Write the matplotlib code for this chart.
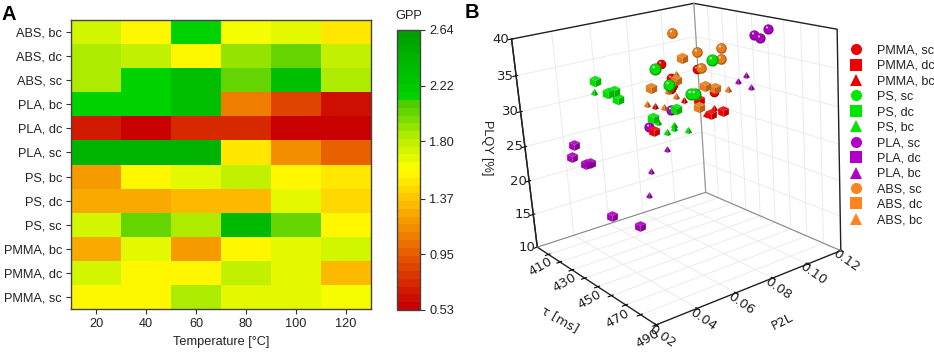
"""
Two panel figure: GPP heatmap (A) and 3D scatter of t, P2L and PLQY (B).
"""

import numpy as np
import matplotlib
matplotlib.use("Agg")
import matplotlib.pyplot as plt
from matplotlib.colors import LinearSegmentedColormap
from matplotlib.lines import Line2D
from matplotlib.path import Path

plt.rcParams["font.family"] = ["Liberation Sans", "DejaVu Sans"]
plt.rcParams["grid.color"] = "#ebebeb"
plt.rcParams["grid.linewidth"] = 0.7

# --- Panel A data ---
temperatures = [20, 40, 60, 80, 100, 120]
samples = ["ABS, bc", "ABS, dc", "ABS, sc", "PLA, bc", "PLA, dc", "PLA, sc",
           "PS, bc", "PS, dc", "PS, sc", "PMMA, bc", "PMMA, dc", "PMMA, sc"]
gpp_abs_bc = [1.71, 1.58, 2.12, 1.60, 1.68, 1.50]
gpp_abs_dc = [1.84, 1.78, 1.57, 1.92, 2.02, 1.77]
gpp_abs_sc = [1.84, 2.12, 2.30, 2.05, 2.34, 1.86]
gpp_pla_bc = [2.12, 2.12, 2.30, 1.10, 0.85, 0.62]
gpp_pla_dc = [0.67, 0.57, 0.75, 0.74, 0.53, 0.53]
gpp_pla_sc = [2.42, 2.46, 2.42, 1.47, 1.15, 0.95]
gpp_ps_bc = [1.18, 1.58, 1.66, 1.77, 1.58, 1.48]
gpp_ps_dc = [1.25, 1.25, 1.33, 1.33, 1.70, 1.42]
gpp_ps_sc = [1.76, 2.02, 1.84, 2.36, 2.05, 1.58]
gpp_pmma_bc = [1.28, 1.67, 1.20, 1.58, 1.65, 1.72]
gpp_pmma_dc = [1.76, 1.58, 1.58, 1.77, 1.65, 1.33]
gpp_pmma_sc = [1.58, 1.58, 1.84, 1.65, 1.65, 1.63]
gpp_ticks = [0.53, 0.95, 1.37, 1.80, 2.22, 2.64]

# --- Panel B data: t [ms], P2L, PLQY [%] ---
abs_sc_t = [427, 438, 450, 458, 468]
abs_sc_p = [0.0850, 0.0898, 0.0931, 0.0860, 0.0671]
abs_sc_q = [38.6, 36.2, 37.2, 36.5, 37.0]
pmma_sc_t = [427, 438, 450, 458, 468, 476]
pmma_sc_p = [0.0778, 0.0889, 0.0655, 0.0604, 0.0514, 0.0664]
pmma_sc_q = [34.7, 33.9, 34.8, 34.7, 35.3, 34.5]
ps_sc_t = [427, 438, 450, 458, 468]
ps_sc_p = [0.0747, 0.0979, 0.0644, 0.0689, 0.0633]
ps_sc_q = [34.2, 34.6, 34.0, 32.9, 34.0]
pla_sc_t = [445, 454, 454, 458, 468]
pla_sc_p = [0.1167, 0.1117, 0.1167, 0.0583, 0.0398]
pla_sc_q = [37.4, 37.7, 38.6, 31.6, 31.4]
abs_dc_t = [427, 438, 450, 458, 468, 476]
abs_dc_p = [0.0899, 0.0638, 0.0680, 0.0767, 0.0738, 0.0586]
abs_dc_q = [34.8, 32.8, 34.4, 33.5, 34.0, 33.1]
pmma_dc_t = [427, 438, 450, 458]
pmma_dc_p = [0.0981, 0.0953, 0.0923, 0.0491]
pmma_dc_q = [28.3, 27.1, 28.6, 29.4]
ps_dc_t = [427, 438, 450, 458, 468, 476]
ps_dc_p = [0.0427, 0.0416, 0.0367, 0.0330, 0.0535, 0.0360]
ps_dc_q = [34.4, 33.6, 34.9, 34.6, 32.7, 33.3]
pla_dc_t = [427, 427, 445, 445, 445, 476]
pla_dc_p = [0.0294, 0.0276, 0.0233, 0.0254, 0.0336, 0.0260]
pla_dc_q = [26.7, 25.1, 26.0, 26.0, 18.1, 20.6]
abs_bc_t = [427, 438, 450, 458, 468, 476]
abs_bc_p = [0.0858, 0.0725, 0.0675, 0.0465, 0.0474, 0.0734]
abs_bc_q = [32.8, 31.9, 32.3, 33.1, 33.3, 34.4]
pmma_bc_t = [427, 438, 450, 458, 468, 476]
pmma_bc_p = [0.0729, 0.0808, 0.0826, 0.0806, 0.0610, 0.0467]
pmma_bc_q = [29.1, 30.1, 28.9, 30.3, 33.8, 36.4]
ps_bc_t = [427, 438, 450, 458, 468, 476]
ps_bc_p = [0.0419, 0.0661, 0.0652, 0.0590, 0.0479, 0.0522]
ps_bc_q = [33.1, 28.0, 28.5, 29.1, 30.1, 30.7]
pla_bc_t = [445, 438, 450, 458, 468, 476]
pla_bc_p = [0.1108, 0.1121, 0.1089, 0.0547, 0.0387, 0.0314]
pla_bc_q = [32.2, 30.9, 30.9, 26.7, 25.8, 24.1]

t_ticks = [410, 420, 430, 440, 450, 460, 470, 480, 490]
t_tick_labels = ["410", "", "430", "", "450", "", "470", "", "490"]
p2l_ticks = [0.02, 0.04, 0.06, 0.08, 0.10, 0.12]
plqy_ticks = [10, 15, 20, 25, 30, 35, 40]

legend_labels = ["PMMA, sc", "PMMA, dc", "PMMA, bc", "PS, sc", "PS, dc", "PS, bc",
                 "PLA, sc", "PLA, dc", "PLA, bc", "ABS, sc", "ABS, dc", "ABS, bc"]

W, H = 934.0, 353.0
TEXT = "#222222"
FS = 9.2

RED = "#ee0000"
GREEN = "#00e000"
PURPLE = "#a800bc"
ORANGE = "#e87c1c"


def glyph(points):
    """Closed marker path; the leading moveto keeps every glyph on the same scale."""
    pts = [(1, 1)] + list(points) + [points[0]]
    codes = [Path.MOVETO, Path.MOVETO] + [Path.LINETO] * (len(points) - 1) + [Path.CLOSEPOLY]
    return Path(pts, codes)


def disc(cx, cy, r):
    a = np.linspace(0, 2 * np.pi, 40, endpoint=False)
    return glyph(list(zip(cx + r * np.cos(a), cy + r * np.sin(a))))


SPHERE = [(disc(0, 0, 1.0), 0.72), (disc(-0.06, 0.08, 0.84), 1.0), (disc(-0.3, 0.4, 0.2), "white")]
CUBE = [(glyph([(-1, 0.55), (0, 1), (1, 0.55), (0, 0.1)]), 1.1),
        (glyph([(-1, 0.55), (0, 0.1), (0, -1), (-1, -0.55)]), 1.0),
        (glyph([(1, 0.55), (0, 0.1), (0, -1), (1, -0.55)]), 0.8)]
PYRAMID = [(glyph([(0, 1), (-1, -0.55), (0.05, -1)]), 1.0),
           (glyph([(0, 1), (0.05, -1), (1, -0.55)]), 0.72)]


def shade(color, factor):
    rgb = np.array(matplotlib.colors.to_rgb(color))
    if factor == "white":
        return (1.0, 1.0, 1.0, 0.85)
    if factor > 1:
        return tuple(rgb + (1 - rgb) * (factor - 1))
    return tuple(rgb * factor)


def draw_marks(ax, t, p, q, color, parts, size, order):
    for k, (path, factor) in enumerate(parts):
        ax.scatter(t, p, q, marker=path, s=size, color=[shade(color, factor)],
                   linewidths=0, depthshade=False, zorder=order + k * 0.01)


def draw_heatmap(fig):
    ax = fig.add_axes([71 / W, 44 / H, 300 / W, 289 / H])
    cmap = LinearSegmentedColormap.from_list(
        "gpp",
        [(0.0, "#c80000"), (0.2, "#e86000"), (0.4, "#ffc800"), (0.5, "#ffff00"),
         (0.62, "#b4ee00"), (0.75, "#46cc00"), (0.77, "#00d200"), (1.0, "#00a000")],
        N=36,
    )
    values = np.array([gpp_abs_bc, gpp_abs_dc, gpp_abs_sc, gpp_pla_bc, gpp_pla_dc, gpp_pla_sc,
                       gpp_ps_bc, gpp_ps_dc, gpp_ps_sc, gpp_pmma_bc, gpp_pmma_dc, gpp_pmma_sc])
    x_edges = np.r_[np.array(temperatures) - 10, temperatures[-1] + 10]
    y_edges = np.arange(len(samples) + 1) - 0.5
    mesh = ax.pcolormesh(x_edges, y_edges, values, cmap=cmap, vmin=gpp_ticks[0], vmax=gpp_ticks[-1])
    ax.invert_yaxis()
    ax.set_xticks(temperatures)
    ax.set_yticks(range(len(samples)), samples)
    ax.tick_params(labelsize=FS, length=3.5, width=0.8, color="#333333", labelcolor=TEXT, pad=3)
    ax.set_xlabel("Temperature [°C]", fontsize=FS, color=TEXT, labelpad=4)
    for spine in ax.spines.values():
        spine.set_color("#444444")
        spine.set_linewidth(1.0)

    cax = fig.add_axes([397 / W, 43 / H, 23 / W, 280 / H])
    cbar = fig.colorbar(mesh, cax=cax, ticks=gpp_ticks, drawedges=False)
    cbar.ax.set_yticklabels([f"{v:.2f}" for v in gpp_ticks])
    cbar.ax.tick_params(labelsize=FS, length=3.5, width=0.8, color="#333333", labelcolor=TEXT, pad=3)
    cbar.outline.set_edgecolor("#444444")
    cbar.outline.set_linewidth(1.0)
    fig.text(409 / W, 1 - 16 / H, "GPP", fontsize=FS, color=TEXT, ha="center", va="center")


def draw_scatter(fig):
    cx, cy, s = 672.04, 202.367, 380.094
    ax = fig.add_axes([(cx - s / 2) / W, (cy - s / 2) / H, s / W, s / H],
                      projection="3d", computed_zorder=False)
    ax.set_facecolor("none")
    ax.view_init(elev=18.368, azim=-33.947, roll=4.1)
    ax.set_proj_type("persp", focal_length=0.476)
    ax.set_box_aspect((1.003, 0.993, 1))
    t0, t1, p0, p1, q0, q1 = 400, 490, 0.02, 0.12, 10, 40
    ax.set_xlim(t0, t1, view_margin=0)
    ax.set_ylim(p0, p1, view_margin=0)
    ax.set_zlim(q0, q1, view_margin=0)

    ax.set_xticks(t_ticks, t_tick_labels)
    ax.set_yticks(p2l_ticks, [f"{v:.2f}" for v in p2l_ticks])
    ax.set_zticks(plqy_ticks)
    ax.zaxis.set_ticks_position("lower")
    for axis in (ax.xaxis, ax.yaxis, ax.zaxis):
        axis.set_pane_color((1, 1, 1, 1))
        axis.pane.set_edgecolor("white")
        axis.line.set_color("#222222")
        axis.line.set_linewidth(1.0)
    ax.tick_params(labelsize=FS + 0.3, labelcolor=TEXT)
    ax.tick_params(axis="x", pad=-1.5)
    ax.tick_params(axis="y", pad=-3)
    ax.tick_params(axis="z", pad=-3)
    for lab in ax.get_xticklabels():
        lab.set(rotation=30, family="DejaVu Sans", va="center", ha="center")
    for lab in ax.get_yticklabels():
        lab.set(rotation=-35, family="DejaVu Sans", va="center", ha="center")
    for lab in ax.get_zticklabels():
        lab.set(family="DejaVu Sans", va="center", ha="center")

    # wall and floor edges
    ax.plot([t0, t0, t1, t1], [p0, p1, p1, p1], [q1, q1, q1, q0], color="#222222", lw=1.0, zorder=1)
    ax.plot([t0, t0], [p0, p0], [q0, q1], color="#222222", lw=1.0, zorder=1)
    ax.plot([t0, t0, t1], [p0, p1, p1], [q0, q0, q0], color="#888888", lw=0.8, zorder=1)
    ax.plot([t0, t0], [p1, p1], [q0, q1], color="#999999", lw=0.9, zorder=1)

    sets = [
        (pla_sc_t, pla_sc_p, pla_sc_q, PURPLE, SPHERE, 54),
        (pla_dc_t, pla_dc_p, pla_dc_q, PURPLE, CUBE, 60),
        (pla_bc_t, pla_bc_p, pla_bc_q, PURPLE, PYRAMID, 24),
        (pmma_sc_t, pmma_sc_p, pmma_sc_q, RED, SPHERE, 48),
        (pmma_bc_t, pmma_bc_p, pmma_bc_q, RED, PYRAMID, 26),
        (pmma_dc_t, pmma_dc_p, pmma_dc_q, RED, CUBE, 60),
        (abs_bc_t, abs_bc_p, abs_bc_q, ORANGE, PYRAMID, 28),
        (abs_sc_t, abs_sc_p, abs_sc_q, ORANGE, SPHERE, 58),
        (abs_dc_t, abs_dc_p, abs_dc_q, ORANGE, CUBE, 66),
        (ps_bc_t, ps_bc_p, ps_bc_q, GREEN, PYRAMID, 28),
        (ps_dc_t, ps_dc_p, ps_dc_q, GREEN, CUBE, 68),
        (ps_sc_t, ps_sc_p, ps_sc_q, GREEN, SPHERE, 76),
    ]
    for i, (t, p, q, color, parts, size) in enumerate(sets):
        draw_marks(ax, t, p, q, color, parts, size, 5 + i)

    fig.text(487 / W, 1 - 148 / H, "PLQY [%]", rotation=-90, fontsize=FS, color=TEXT,
             ha="center", va="center")
    fig.text(560 / W, 1 - 319 / H, "τ [ms]", rotation=-30, fontsize=FS, color=TEXT,
             ha="center", va="center", family="DejaVu Sans")
    fig.text(782 / W, 1 - 322 / H, "P2L", rotation=27, fontsize=FS, color=TEXT,
             ha="center", va="center", family="DejaVu Sans")


def draw_legend(fig):
    colors = [RED] * 3 + ["#00e600"] * 3 + ["#b000c8"] * 3 + ["#ff8420"] * 3
    markers = ["o", "s", "^"] * 4
    handles = [Line2D([], [], linestyle="none", marker=m, color=c, markersize=8, markeredgewidth=0)
               for m, c in zip(markers, colors)]
    fig.legend(handles, legend_labels, loc="upper left", bbox_to_anchor=(847 / W, 1 - 44.5 / H),
               frameon=False, fontsize=9, labelspacing=0.274, handlelength=1.43, handletextpad=0.97,
               borderaxespad=0, borderpad=0, labelcolor=TEXT)


def main():
    fig = plt.figure(figsize=(W / 100, H / 100), dpi=100)
    draw_heatmap(fig)
    draw_scatter(fig)
    draw_legend(fig)
    fig.text(2 / W, 1 - 14 / H, "A", fontsize=14.5, fontweight="bold", color="black", va="center")
    fig.text(465 / W, 1 - 13 / H, "B", fontsize=14.5, fontweight="bold", color="black", va="center")
    fig.savefig("out.png", dpi=100)
    plt.close(fig)


if __name__ == "__main__":
    main()
